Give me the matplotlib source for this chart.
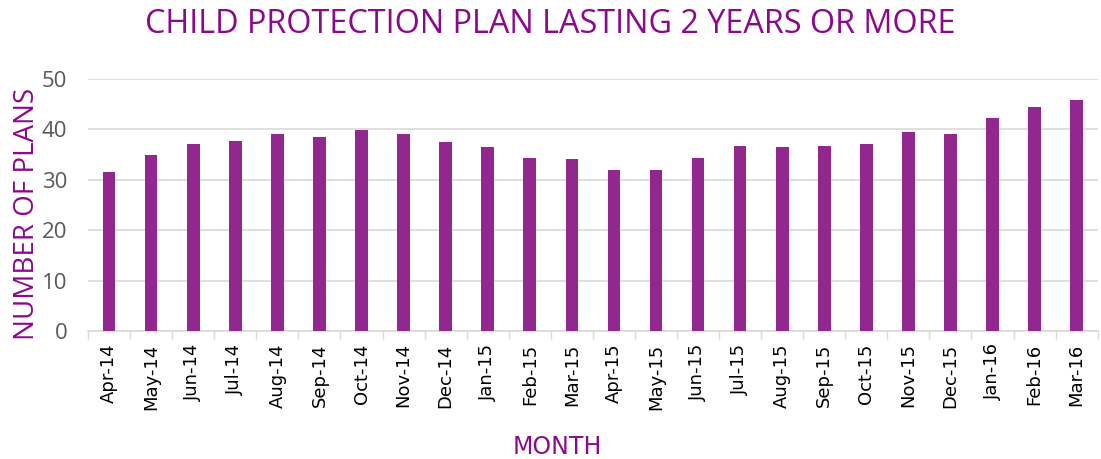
import matplotlib
matplotlib.use("Agg")
import matplotlib.pyplot as plt
import numpy as np

# datos
meses = ['Apr-14', 'May-14', 'Jun-14', 'Jul-14', 'Aug-14', 'Sep-14', 'Oct-14', 'Nov-14',
         'Dec-14', 'Jan-15', 'Feb-15', 'Mar-15', 'Apr-15', 'May-15', 'Jun-15', 'Jul-15',
         'Aug-15', 'Sep-15', 'Oct-15', 'Nov-15', 'Dec-15', 'Jan-16', 'Feb-16', 'Mar-16']
planes = [31.5, 35.0, 37.0, 37.7, 39.1, 38.4, 39.8, 39.1,
          37.5, 36.4, 34.4, 34.2, 32.0, 32.0, 34.4, 36.7,
          36.5, 36.7, 37.0, 39.5, 39.1, 42.3, 44.4, 45.9]

morado = '#8B0A8C'
barra = '#92278F'
gris = '#595959'

fig = plt.figure(figsize=(11.01, 4.59), dpi=100)
ax = fig.add_axes([0.080, 0.279, 0.917, 0.549])

x = np.arange(len(meses))
ax.bar(x, planes, width=0.3, color=barra, zorder=3)

ax.set_xlim(-0.5, len(meses) - 0.5)
ax.set_ylim(0, 50)
ax.set_yticks(range(0, 51, 10))
ax.grid(axis='y', color='#d9d9d9', linewidth=1.2, zorder=0)

ax.set_xticks(x)
ax.set_xticklabels(meses, rotation=90, fontsize=13, family='DejaVu Sans', color='black')
ax.tick_params(axis='x', which='major', length=0, pad=9)
ax.set_xticks(np.arange(-0.5, len(meses), 1), minor=True)
ax.tick_params(axis='x', which='minor', length=6, color='#d9d9d9', width=1)
ax.tick_params(axis='y', length=0, labelsize=16, labelcolor=gris, pad=15)
for lbl in ax.get_yticklabels():
    lbl.set_family('Open Sans')

for s in ['top', 'right', 'left']:
    ax.spines[s].set_visible(False)
ax.spines['bottom'].set_color('#d9d9d9')
ax.spines['bottom'].set_linewidth(1.2)

ax.set_ylabel('NUMBER OF PLANS', fontsize=20, color=morado, family='Open Sans')
ax.yaxis.set_label_coords(-0.047, 0.465)
fig.text(0.506, 0.026, 'MONTH', fontsize=17, color=morado, family='Liberation Sans Narrow',
         ha='center', va='center')
fig.text(0.5, 0.947, 'CHILD PROTECTION PLAN LASTING 2 YEARS OR MORE', fontsize=23.3,
         color=morado, family='Open Sans', ha='center', va='center')

fig.savefig('out.png', dpi=100)
